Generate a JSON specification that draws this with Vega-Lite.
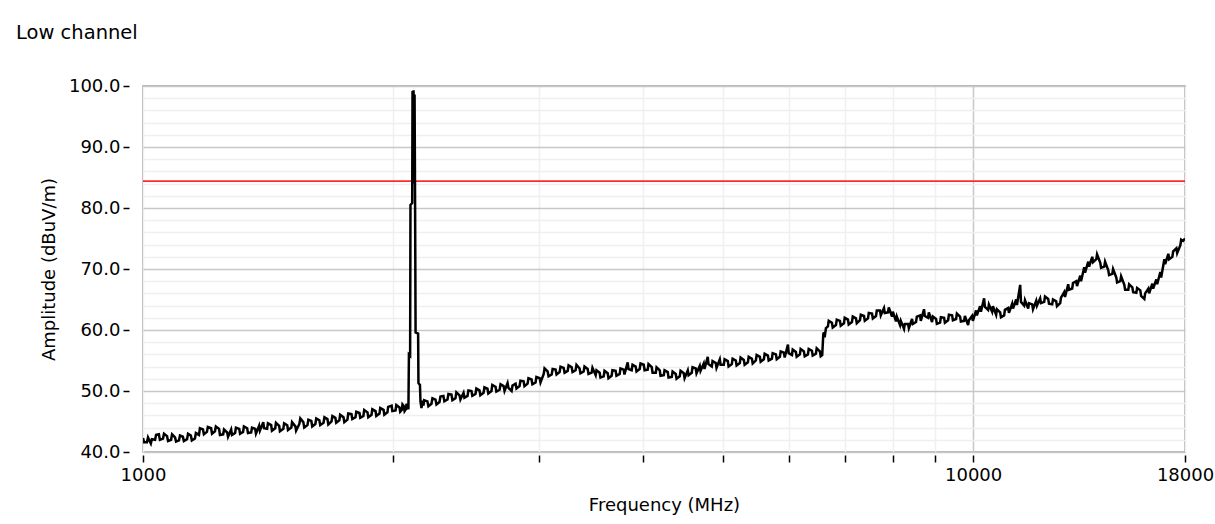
{
  "$schema": "https://vega.github.io/schema/vega-lite/v6.json",
  "width": 1042,
  "height": 366,
  "autosize": "none",
  "padding": {"left": 143, "top": 86, "right": 30, "bottom": 72},
  "background": "white",
  "title": {"text": "Low channel", "anchor": "start", "frame": "group", "dx": -127, "offset": 34, "fontSize": 19.5, "font": "DejaVu Sans", "fontWeight": "normal", "color": "#000000"},
  "config": {"view": {"stroke": "#a0a0a0", "strokeWidth": 1.5}, "font": "DejaVu Sans"},
  "layer": [
    {
      "data": {"values": [{"limit": 84.4}]},
      "mark": {"type": "rule", "color": "#ff2a2a", "strokeWidth": 1.6},
      "encoding": {"y": {"field": "limit", "type": "quantitative"}}
    },
    {
      "data": {"values": [
        {"f":1000,"a":42.3},{"f":1003,"a":41.6},{"f":1011,"a":41.6},{"f":1014,"a":42.4},{"f":1022,"a":41.4},{"f":1025,"a":42.1},
        {"f":1034,"a":42.0},{"f":1037,"a":42.8},{"f":1045,"a":42.9},{"f":1048,"a":42.0},{"f":1057,"a":42.2},{"f":1060,"a":43.0},
        {"f":1069,"a":42.6},{"f":1072,"a":41.8},{"f":1081,"a":42.0},{"f":1084,"a":42.9},{"f":1093,"a":42.4},{"f":1096,"a":41.7},
        {"f":1105,"a":41.9},{"f":1108,"a":42.7},{"f":1117,"a":42.5},{"f":1120,"a":41.8},{"f":1130,"a":42.1},{"f":1133,"a":43.0},
        {"f":1142,"a":42.7},{"f":1145,"a":41.9},{"f":1155,"a":42.2},{"f":1158,"a":43.1},{"f":1168,"a":42.8},{"f":1171,"a":43.9},
        {"f":1181,"a":43.7},{"f":1184,"a":42.9},{"f":1194,"a":43.3},{"f":1197,"a":44.1},{"f":1208,"a":43.9},{"f":1211,"a":43.0},
        {"f":1221,"a":43.4},{"f":1224,"a":44.2},{"f":1235,"a":43.8},{"f":1238,"a":42.8},{"f":1249,"a":42.9},{"f":1252,"a":43.7},
        {"f":1263,"a":43.2},{"f":1266,"a":42.5},{"f":1277,"a":43.7},{"f":1280,"a":42.8},{"f":1291,"a":43.1},{"f":1294,"a":44.0},
        {"f":1306,"a":43.8},{"f":1309,"a":43.0},{"f":1320,"a":43.3},{"f":1323,"a":44.2},{"f":1335,"a":43.9},{"f":1338,"a":43.1},
        {"f":1350,"a":43.2},{"f":1353,"a":44.0},{"f":1365,"a":43.8},{"f":1368,"a":43.0},{"f":1380,"a":44.3},{"f":1383,"a":43.5},
        {"f":1396,"a":44.9},{"f":1399,"a":43.9},{"f":1411,"a":43.8},{"f":1414,"a":44.7},{"f":1427,"a":44.4},{"f":1430,"a":43.5},
        {"f":1443,"a":43.9},{"f":1446,"a":44.8},{"f":1459,"a":44.3},{"f":1462,"a":43.4},{"f":1476,"a":43.8},{"f":1479,"a":44.7},
        {"f":1492,"a":44.4},{"f":1495,"a":43.6},{"f":1509,"a":44.0},{"f":1512,"a":44.9},{"f":1526,"a":44.2},{"f":1529,"a":43.5},
        {"f":1543,"a":44.6},{"f":1547,"a":45.5},{"f":1560,"a":44.9},{"f":1564,"a":44.0},{"f":1578,"a":44.4},{"f":1582,"a":45.3},
        {"f":1595,"a":45.1},{"f":1599,"a":44.2},{"f":1613,"a":44.6},{"f":1617,"a":45.5},{"f":1631,"a":45.2},{"f":1635,"a":44.4},
        {"f":1650,"a":44.8},{"f":1654,"a":45.7},{"f":1668,"a":45.4},{"f":1672,"a":44.5},{"f":1687,"a":45.0},{"f":1691,"a":45.9},
        {"f":1705,"a":45.6},{"f":1709,"a":44.8},{"f":1724,"a":45.2},{"f":1728,"a":46.1},{"f":1744,"a":45.7},{"f":1748,"a":44.9},
        {"f":1763,"a":45.3},{"f":1767,"a":46.3},{"f":1783,"a":46.2},{"f":1787,"a":45.4},{"f":1803,"a":45.7},{"f":1807,"a":46.6},
        {"f":1823,"a":46.4},{"f":1827,"a":45.6},{"f":1843,"a":45.9},{"f":1847,"a":46.9},{"f":1864,"a":46.5},{"f":1868,"a":45.7},
        {"f":1885,"a":46.1},{"f":1889,"a":47.0},{"f":1906,"a":46.7},{"f":1910,"a":45.9},{"f":1927,"a":46.3},{"f":1931,"a":47.2},
        {"f":1949,"a":46.9},{"f":1953,"a":46.1},{"f":1970,"a":46.5},{"f":1974,"a":47.4},{"f":1993,"a":47.6},{"f":1997,"a":46.7},
        {"f":2015,"a":46.8},{"f":2019,"a":47.7},{"f":2037,"a":47.3},{"f":2041,"a":46.6},{"f":2050,"a":46.9},{"f":2054,"a":47.8},
        {"f":2062,"a":47.5},{"f":2066,"a":46.7},{"f":2073,"a":47.0},{"f":2077,"a":47.9},{"f":2085,"a":47.3},{"f":2088,"a":47.0},
        {"f":2091,"a":56.0},{"f":2098,"a":55.8},{"f":2100,"a":80.5},{"f":2110,"a":80.8},{"f":2112,"a":99.2},
        {"f":2115,"a":86.0},{"f":2118,"a":99.3},{"f":2121,"a":84.0},{"f":2124,"a":98.6},{"f":2127,"a":81.0},
        {"f":2130,"a":59.6},{"f":2145,"a":59.4},{"f":2147,"a":51.3},{"f":2156,"a":51.0},{"f":2159,"a":48.3},
        {"f":2165,"a":47.2},{"f":2171,"a":48.4},{"f":2177,"a":47.6},{"f":2181,"a":48.5},
        {"f":2201,"a":48.3},{"f":2207,"a":47.5},{"f":2226,"a":47.9},{"f":2232,"a":48.8},{"f":2251,"a":48.6},{"f":2257,"a":47.8},
        {"f":2276,"a":48.2},{"f":2282,"a":49.1},{"f":2301,"a":49.2},{"f":2307,"a":48.3},{"f":2327,"a":48.6},{"f":2333,"a":49.5},
        {"f":2353,"a":49.4},{"f":2359,"a":48.5},{"f":2379,"a":48.8},{"f":2385,"a":49.8},{"f":2406,"a":49.3},{"f":2412,"a":48.6},
        {"f":2433,"a":49.7},{"f":2439,"a":48.9},{"f":2460,"a":49.2},{"f":2466,"a":50.1},{"f":2487,"a":50.0},{"f":2493,"a":49.2},
        {"f":2515,"a":49.5},{"f":2521,"a":50.4},{"f":2543,"a":50.1},{"f":2549,"a":49.3},{"f":2572,"a":49.7},{"f":2578,"a":50.6},
        {"f":2600,"a":50.4},{"f":2606,"a":49.6},{"f":2629,"a":50.0},{"f":2635,"a":51.0},{"f":2659,"a":50.7},{"f":2665,"a":49.9},
        {"f":2689,"a":50.2},{"f":2696,"a":51.1},{"f":2719,"a":50.8},{"f":2726,"a":50.0},{"f":2749,"a":51.3},{"f":2756,"a":50.5},
        {"f":2780,"a":50.0},{"f":2787,"a":50.9},{"f":2811,"a":51.2},{"f":2818,"a":50.4},{"f":2842,"a":50.8},{"f":2849,"a":51.7},
        {"f":2874,"a":51.6},{"f":2881,"a":50.8},{"f":2906,"a":51.2},{"f":2913,"a":52.1},{"f":2938,"a":51.9},{"f":2945,"a":51.1},
        {"f":2971,"a":51.4},{"f":2978,"a":52.3},{"f":3005,"a":52.1},{"f":3012,"a":51.4},{"f":3039,"a":52.8},{"f":3046,"a":53.7},
        {"f":3072,"a":53.2},{"f":3080,"a":52.4},{"f":3107,"a":52.7},{"f":3115,"a":53.6},{"f":3141,"a":53.5},{"f":3149,"a":52.7},
        {"f":3176,"a":53.1},{"f":3184,"a":54.0},{"f":3212,"a":53.8},{"f":3220,"a":53.0},{"f":3248,"a":53.3},{"f":3256,"a":54.2},
        {"f":3284,"a":53.9},{"f":3292,"a":53.1},{"f":3320,"a":53.4},{"f":3328,"a":54.3},{"f":3357,"a":53.7},{"f":3365,"a":52.9},
        {"f":3395,"a":53.2},{"f":3403,"a":54.0},{"f":3433,"a":53.6},{"f":3441,"a":52.8},{"f":3471,"a":53.0},{"f":3479,"a":53.8},
        {"f":3510,"a":52.6},{"f":3518,"a":53.4},{"f":3549,"a":53.0},{"f":3557,"a":52.2},{"f":3589,"a":52.4},{"f":3597,"a":53.3},
        {"f":3629,"a":52.9},{"f":3637,"a":52.1},{"f":3669,"a":52.5},{"f":3677,"a":53.4},{"f":3710,"a":53.3},{"f":3718,"a":52.5},
        {"f":3752,"a":52.8},{"f":3760,"a":53.7},{"f":3794,"a":53.5},{"f":3802,"a":52.7},{"f":3836,"a":54.7},{"f":3845,"a":53.6},
        {"f":3879,"a":53.4},{"f":3888,"a":54.3},{"f":3922,"a":54.0},{"f":3931,"a":53.2},{"f":3966,"a":53.6},{"f":3975,"a":54.5},
        {"f":4011,"a":54.3},{"f":4020,"a":53.4},{"f":4055,"a":53.5},{"f":4064,"a":54.4},{"f":4101,"a":53.9},{"f":4110,"a":53.0},
        {"f":4147,"a":53.0},{"f":4156,"a":53.9},{"f":4193,"a":53.4},{"f":4202,"a":52.5},{"f":4240,"a":52.6},{"f":4249,"a":53.4},
        {"f":4287,"a":53.1},{"f":4296,"a":52.2},{"f":4335,"a":52.3},{"f":4345,"a":53.2},{"f":4383,"a":52.8},{"f":4393,"a":52.0},
        {"f":4432,"a":52.4},{"f":4442,"a":53.3},{"f":4482,"a":52.9},{"f":4492,"a":52.1},{"f":4532,"a":53.4},{"f":4542,"a":52.6},
        {"f":4582,"a":53.0},{"f":4592,"a":53.9},{"f":4633,"a":53.7},{"f":4643,"a":52.9},{"f":4685,"a":54.1},{"f":4695,"a":53.3},
        {"f":4737,"a":54.5},{"f":4747,"a":53.6},{"f":4790,"a":55.6},{"f":4800,"a":54.4},{"f":4844,"a":54.0},{"f":4854,"a":54.9},
        {"f":4898,"a":54.6},{"f":4908,"a":53.8},{"f":4953,"a":55.2},{"f":4964,"a":54.3},{"f":5008,"a":54.3},{"f":5019,"a":55.2},
        {"f":5064,"a":54.9},{"f":5075,"a":54.0},{"f":5121,"a":54.4},{"f":5132,"a":55.3},{"f":5178,"a":55.0},{"f":5189,"a":54.2},
        {"f":5236,"a":54.6},{"f":5247,"a":55.5},{"f":5294,"a":55.1},{"f":5306,"a":54.3},{"f":5354,"a":54.7},{"f":5366,"a":55.6},
        {"f":5414,"a":55.3},{"f":5426,"a":54.5},{"f":5474,"a":55.0},{"f":5486,"a":55.9},{"f":5535,"a":55.6},{"f":5547,"a":54.8},
        {"f":5597,"a":55.2},{"f":5609,"a":56.1},{"f":5660,"a":55.8},{"f":5672,"a":55.0},{"f":5723,"a":55.3},{"f":5735,"a":56.2},
        {"f":5787,"a":56.0},{"f":5800,"a":55.2},{"f":5851,"a":55.6},{"f":5864,"a":56.5},{"f":5917,"a":56.3},{"f":5930,"a":55.5},
        {"f":5983,"a":57.6},{"f":5996,"a":56.2},{"f":6050,"a":55.9},{"f":6063,"a":56.8},{"f":6117,"a":56.4},{"f":6130,"a":55.6},
        {"f":6185,"a":56.0},{"f":6198,"a":56.9},{"f":6254,"a":56.5},{"f":6268,"a":55.7},{"f":6324,"a":56.0},{"f":6338,"a":56.9},
        {"f":6395,"a":56.6},{"f":6409,"a":55.8},{"f":6466,"a":56.1},{"f":6480,"a":57.0},{"f":6538,"a":56.5},{"f":6552,"a":55.7},
        {"f":6580,"a":55.9},{"f":6600,"a":59.3},{"f":6611,"a":59.6},{"f":6625,"a":58.8},{"f":6648,"a":60.3},
        {"f":6685,"a":60.6},{"f":6700,"a":61.5},{"f":6760,"a":61.2},{"f":6775,"a":60.4},{"f":6836,"a":60.8},{"f":6851,"a":61.7},
        {"f":6912,"a":61.5},{"f":6927,"a":60.7},{"f":6989,"a":61.1},{"f":7004,"a":62.0},{"f":7067,"a":61.7},{"f":7082,"a":60.9},
        {"f":7146,"a":61.3},{"f":7162,"a":62.2},{"f":7226,"a":61.9},{"f":7242,"a":61.1},{"f":7307,"a":61.6},{"f":7323,"a":62.5},
        {"f":7389,"a":62.3},{"f":7405,"a":61.5},{"f":7471,"a":61.9},{"f":7487,"a":62.8},{"f":7555,"a":62.7},{"f":7572,"a":61.9},
        {"f":7639,"a":62.3},{"f":7656,"a":63.2},{"f":7724,"a":63.2},{"f":7741,"a":62.4},{"f":7810,"a":63.6},{"f":7827,"a":62.8},
        {"f":7898,"a":62.9},{"f":7915,"a":63.7},{"f":7986,"a":62.2},{"f":8004,"a":63.0},{"f":8075,"a":61.4},{"f":8093,"a":62.2},
        {"f":8165,"a":60.8},{"f":8183,"a":61.5},{"f":8256,"a":60.2},{"f":8274,"a":61.0},{"f":8349,"a":61.0},{"f":8367,"a":60.3},
        {"f":8442,"a":61.8},{"f":8461,"a":61.0},{"f":8536,"a":61.3},{"f":8555,"a":62.2},{"f":8631,"a":62.4},{"f":8650,"a":61.5},
        {"f":8727,"a":63.4},{"f":8746,"a":62.3},{"f":8825,"a":62.0},{"f":8845,"a":62.9},{"f":8924,"a":61.3},{"f":8944,"a":62.2},
        {"f":9024,"a":61.8},{"f":9044,"a":61.0},{"f":9125,"a":61.2},{"f":9145,"a":62.1},{"f":9227,"a":62.0},{"f":9247,"a":61.2},
        {"f":9330,"a":61.6},{"f":9351,"a":62.5},{"f":9434,"a":62.4},{"f":9455,"a":61.6},{"f":9539,"a":61.8},{"f":9560,"a":62.7},
        {"f":9645,"a":62.2},{"f":9666,"a":61.4},{"f":9753,"a":61.5},{"f":9775,"a":62.3},{"f":9862,"a":60.8},{"f":9884,"a":61.6},
        {"f":9972,"a":62.3},{"f":9994,"a":61.5},{"f":10084,"a":63.2},{"f":10106,"a":62.4},{"f":10196,"a":63.9},{"f":10219,"a":63.0},
        {"f":10310,"a":65.2},{"f":10333,"a":63.8},{"f":10425,"a":63.3},{"f":10448,"a":64.2},{"f":10542,"a":63.0},{"f":10565,"a":63.9},
        {"f":10660,"a":62.5},{"f":10684,"a":63.4},{"f":10779,"a":62.9},{"f":10803,"a":62.1},{"f":10899,"a":62.4},{"f":10923,"a":63.3},
        {"f":11021,"a":63.6},{"f":11045,"a":62.8},{"f":11145,"a":64.3},{"f":11170,"a":63.5},{"f":11269,"a":65.0},{"f":11294,"a":64.1},
        {"f":11395,"a":67.4},{"f":11420,"a":64.6},{"f":11522,"a":64.0},{"f":11548,"a":64.9},{"f":11651,"a":63.5},{"f":11677,"a":64.4},
        {"f":11781,"a":64.2},{"f":11807,"a":63.4},{"f":11913,"a":64.8},{"f":11939,"a":64.0},{"f":12045,"a":65.2},{"f":12072,"a":64.4},
        {"f":12180,"a":64.6},{"f":12207,"a":65.5},{"f":12316,"a":65.1},{"f":12343,"a":64.3},{"f":12453,"a":64.2},{"f":12481,"a":65.0},
        {"f":12592,"a":64.7},{"f":12620,"a":63.9},{"f":12733,"a":64.4},{"f":12761,"a":65.3},{"f":12875,"a":66.2},{"f":12904,"a":65.4},
        {"f":13019,"a":67.5},{"f":13048,"a":66.6},{"f":13164,"a":66.8},{"f":13193,"a":67.7},{"f":13311,"a":68.0},{"f":13341,"a":67.2},
        {"f":13461,"a":68.9},{"f":13491,"a":68.0},{"f":13611,"a":70.3},{"f":13641,"a":69.4},{"f":13764,"a":71.2},{"f":13795,"a":70.4},
        {"f":13917,"a":72.0},{"f":13948,"a":71.1},{"f":14073,"a":71.6},{"f":14104,"a":72.4},{"f":14230,"a":71.0},{"f":14262,"a":70.2},
        {"f":14389,"a":70.4},{"f":14421,"a":71.2},{"f":14550,"a":69.8},{"f":14582,"a":69.0},{"f":14712,"a":69.2},{"f":14745,"a":70.0},
        {"f":14877,"a":68.6},{"f":14910,"a":67.8},{"f":15043,"a":68.0},{"f":15077,"a":68.8},{"f":15211,"a":67.4},{"f":15245,"a":66.6},
        {"f":15381,"a":66.6},{"f":15415,"a":67.5},{"f":15553,"a":67.0},{"f":15588,"a":66.2},{"f":15727,"a":66.1},{"f":15762,"a":66.9},
        {"f":15902,"a":66.5},{"f":15937,"a":65.6},{"f":16080,"a":65.1},{"f":16116,"a":66.0},{"f":16260,"a":66.8},{"f":16296,"a":66.0},
        {"f":16441,"a":67.6},{"f":16478,"a":66.8},{"f":16625,"a":68.3},{"f":16662,"a":67.5},{"f":16810,"a":69.5},{"f":16848,"a":68.6},
        {"f":16998,"a":71.6},{"f":17036,"a":70.8},{"f":17188,"a":72.5},{"f":17226,"a":71.6},{"f":17380,"a":72.0},{"f":17419,"a":72.9},
        {"f":17574,"a":73.4},{"f":17613,"a":72.6},{"f":17770,"a":73.9},{"f":17810,"a":74.8},{"f":17900,"a":74.6},{"f":18000,"a":75.0}
      ]},
      "mark": {"type": "line", "color": "#000000", "strokeWidth": 2.5, "clip": true},
      "encoding": {
        "x": {
          "field": "f", "type": "quantitative",
          "scale": {"type": "log", "domain": [1000, 18000], "nice": false},
          "axis": {
            "values": [1000, 2000, 3000, 4000, 5000, 6000, 7000, 8000, 9000, 10000, 18000],
            "tickCount": 100,
            "format": "d",
            "labelExpr": "indexof([1000, 10000, 18000], round(datum.value)) >= 0 ? datum.label : ''",
            "labelOverlap": false, "labelFlush": false, "labelBound": false,
            "labelFontSize": 18, "labelColor": "#000000", "labelPadding": 4,
            "grid": true,
            "gridColor": {"condition": {"test": "round(datum.value) == 10000", "value": "#c8c8c8"}, "value": "#f0f0f0"},
            "gridWidth": 1.5,
            "domain": false, "offset": 3, "tickSize": 7, "tickColor": "#000000", "tickWidth": 1.5,
            "title": "Frequency (MHz)", "titleFontSize": 18, "titleFontWeight": "normal", "titleColor": "#000000", "titlePadding": 12
          }
        },
        "y": {
          "field": "a", "type": "quantitative",
          "scale": {"domain": [40, 100], "nice": false, "zero": false},
          "axis": {
            "values": [40, 42, 44, 46, 48, 50, 52, 54, 56, 58, 60, 62, 64, 66, 68, 70, 72, 74, 76, 78, 80, 82, 84, 86, 88, 90, 92, 94, 96, 98, 100],
            "tickCount": 100,
            "labelExpr": "round(datum.value) % 10 == 0 ? format(round(datum.value), '.1f') : ''",
            "labelOverlap": false, "labelFontSize": 18, "labelColor": "#000000", "labelPadding": 3,
            "grid": true,
            "gridColor": {"condition": {"test": "round(datum.value) % 10 == 0", "value": "#c8c8c8"}, "value": "#efefef"},
            "gridWidth": 1.5,
            "domain": false, "offset": 14, "tickSize": 6, "tickColor": "#000000", "tickWidth": 1.5,
            "tickOpacity": {"condition": {"test": "round(datum.value) % 10 == 0", "value": 1}, "value": 0},
            "title": "Amplitude (dBuV/m)", "titleFontSize": 18, "titleFontWeight": "normal", "titleColor": "#000000", "titlePadding": 10
          }
        }
      }
    }
  ]
}
